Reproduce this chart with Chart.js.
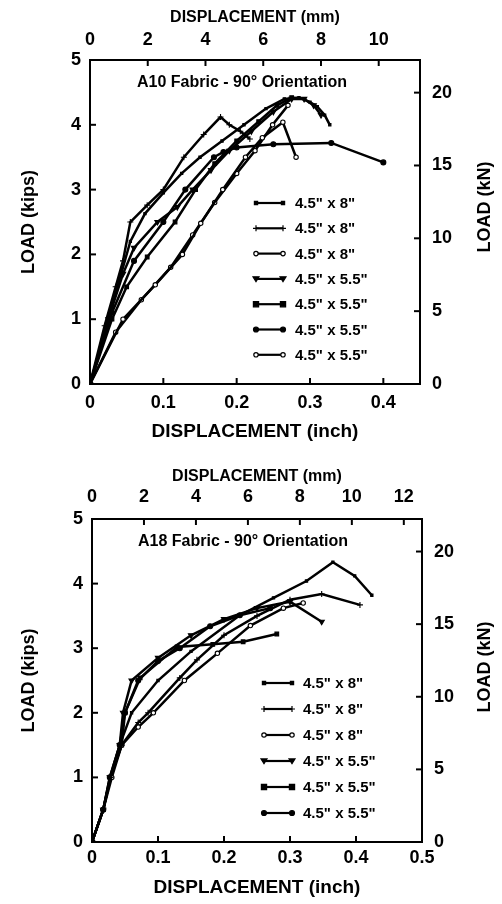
<!DOCTYPE html>
<html>
<head>
<meta charset="utf-8">
<script src="https://cdn.jsdelivr.net/npm/chart.js@4/dist/chart.umd.min.js"></script>
<style>
    body { margin: 0; background: #fff; width: 502px; height: 904px; overflow: hidden; position: relative; }
    canvas { position: absolute; left: 0; }
    #top-chart { top: 0; }
    #bottom-chart { top: 452px; }
</style>
</head>
<body>
<canvas id="top-chart" width="502" height="452"></canvas>
<canvas id="bottom-chart" width="502" height="452"></canvas>
<script>
// Data: [displacement (inch), load (kips)]
const a10Labels = ['4.5" x 8"', '4.5" x 8"', '4.5" x 8"', '4.5" x 5.5"', '4.5" x 5.5"', '4.5" x 5.5"', '4.5" x 5.5"'];
const a10Curve1 = [[0,0],[0.03,1.2],[0.055,2.2],[0.075,2.63],[0.1,2.95],[0.125,3.25],[0.15,3.5],[0.18,3.75],[0.21,4.0],[0.24,4.25],[0.265,4.4],[0.285,4.42],[0.3,4.35],[0.31,4.28],[0.32,4.15],[0.327,4.0]];
const a10Curve2 = [[0,0],[0.02,0.9],[0.035,1.5],[0.045,1.9],[0.055,2.5],[0.078,2.76],[0.1,3.0],[0.128,3.5],[0.155,3.85],[0.178,4.12],[0.19,4.0],[0.205,3.9],[0.218,3.78]];
const a10Curve3 = [[0,0],[0.045,1.0],[0.089,1.53],[0.126,2.0],[0.151,2.48],[0.181,3.0],[0.212,3.5],[0.235,3.8],[0.263,4.04],[0.281,3.5]];
const a10Curve4 = [[0,0],[0.025,1.0],[0.045,1.7],[0.06,2.1],[0.092,2.5],[0.119,2.73],[0.14,3.0],[0.165,3.3],[0.19,3.6],[0.22,3.9],[0.25,4.2],[0.275,4.4],[0.292,4.4],[0.305,4.3],[0.315,4.15]];
const a10Curve5 = [[0,0],[0.03,1.0],[0.05,1.5],[0.078,1.96],[0.116,2.5],[0.144,3.0],[0.17,3.4],[0.2,3.75],[0.23,4.05],[0.255,4.3],[0.275,4.42]];
const a10Curve6 = [[0,0],[0.03,1.1],[0.06,1.9],[0.1,2.5],[0.13,3.0],[0.169,3.5],[0.182,3.58],[0.2,3.65],[0.25,3.7],[0.329,3.72],[0.4,3.42]];
const a10Curve7 = [[0,0],[0.035,0.8],[0.07,1.3],[0.11,1.8],[0.14,2.3],[0.17,2.8],[0.2,3.25],[0.225,3.6],[0.249,4.0],[0.27,4.3]];

const a18Labels = ['4.5" x 8"', '4.5" x 8"', '4.5" x 8"', '4.5" x 5.5"', '4.5" x 5.5"', '4.5" x 5.5"'];
const a18Curve1 = [[0,0],[0.017,0.5],[0.028,1.0],[0.042,1.5],[0.06,2.0],[0.1,2.5],[0.15,2.95],[0.224,3.51],[0.275,3.78],[0.325,4.04],[0.365,4.33],[0.398,4.12],[0.424,3.82]];
const a18Curve2 = [[0,0],[0.017,0.5],[0.028,1.0],[0.045,1.5],[0.07,1.85],[0.085,2.0],[0.133,2.54],[0.159,2.82],[0.2,3.2],[0.25,3.5],[0.3,3.75],[0.348,3.84],[0.406,3.67]];
const a18Curve3 = [[0,0],[0.017,0.5],[0.03,1.0],[0.045,1.5],[0.07,1.78],[0.093,2.0],[0.14,2.5],[0.19,2.92],[0.24,3.35],[0.29,3.62],[0.32,3.7]];
const a18Curve4 = [[0,0],[0.017,0.5],[0.027,1.0],[0.042,1.5],[0.047,2.0],[0.06,2.5],[0.1,2.85],[0.15,3.2],[0.2,3.45],[0.25,3.62],[0.3,3.72],[0.348,3.41]];
const a18Curve5 = [[0,0],[0.017,0.5],[0.028,1.0],[0.045,1.5],[0.05,2.0],[0.073,2.54],[0.129,3.02],[0.183,3.06],[0.229,3.1],[0.28,3.22]];
const a18Curve6 = [[0,0],[0.017,0.5],[0.027,1.0],[0.042,1.5],[0.05,2.0],[0.07,2.5],[0.1,2.8],[0.133,3.0],[0.179,3.34],[0.224,3.51],[0.27,3.62]];

const INCH_TO_MM = 25.4;
const KIP_TO_KN = 4.448;
const FONT = "'Liberation Sans', Arial, sans-serif";

// marker styles, same order as the legends
const markers = [
    { style: 'rect', radius: 1.6, fill: '#000' },
    { style: 'cross', radius: 3, fill: '#000' },
    { style: 'circle', radius: 2.2, fill: '#fff' },
    { style: 'triangle', radius: 3, fill: '#000', rotation: 180 },
    { style: 'rect', radius: 2.6, fill: '#000' },
    { style: 'circle', radius: 2.5, fill: '#000' },
    { style: 'circle', radius: 2.2, fill: '#fff' }
];

function drawMarker(ctx, m, x, y) {
    ctx.save();
    ctx.fillStyle = m.fill;
    ctx.strokeStyle = '#000';
    ctx.lineWidth = 1.2;
    const r = m.radius;
    ctx.beginPath();
    if (m.style === 'rect') {
        ctx.rect(x - r, y - r, 2 * r, 2 * r);
        ctx.fill(); ctx.stroke();
    } else if (m.style === 'cross') {
        ctx.moveTo(x - r, y); ctx.lineTo(x + r, y);
        ctx.moveTo(x, y - r); ctx.lineTo(x, y + r);
        ctx.stroke();
    } else if (m.style === 'triangle') {
        ctx.moveTo(x - r, y - r * 0.7); ctx.lineTo(x + r, y - r * 0.7); ctx.lineTo(x, y + r * 0.9);
        ctx.closePath(); ctx.fill(); ctx.stroke();
    } else {
        ctx.arc(x, y, r, 0, Math.PI * 2);
        ctx.fill(); ctx.stroke();
    }
    ctx.restore();
}

// inward tick marks, plot title, legend and right axis title
const decorPlugin = {
    id: 'decor',
    afterDraw(chart) {
        const ctx = chart.ctx;
        const area = chart.chartArea;
        const d = chart.options.plugins.decor;
        ctx.save();
        ctx.strokeStyle = '#000';
        ctx.lineWidth = 2;
        const len = 6;
        ['x', 'x2', 'y', 'y2'].forEach(id => {
            const s = chart.scales[id];
            s.ticks.forEach(t => {
                const p = s.getPixelForValue(t.value);
                ctx.beginPath();
                if (id === 'x') { ctx.moveTo(p, area.bottom); ctx.lineTo(p, area.bottom - len); }
                if (id === 'x2') { ctx.moveTo(p, area.top); ctx.lineTo(p, area.top + len); }
                if (id === 'y') { ctx.moveTo(area.left, p); ctx.lineTo(area.left + len, p); }
                if (id === 'y2') { ctx.moveTo(area.right, p); ctx.lineTo(area.right - len, p); }
                ctx.stroke();
            });
        });

        ctx.fillStyle = '#000';
        ctx.textAlign = 'center';
        ctx.textBaseline = 'middle';
        ctx.font = `bold 16px ${FONT}`;
        ctx.fillText(d.title, d.titleX, d.titleY);

        // legend
        ctx.font = `bold 15px ${FONT}`;
        ctx.textAlign = 'left';
        chart.data.datasets.forEach((ds, i) => {
            const y = d.legendY + i * d.legendGap;
            ctx.lineWidth = 2.2;
            ctx.beginPath();
            ctx.moveTo(d.legendX1, y);
            ctx.lineTo(d.legendX2, y);
            ctx.stroke();
            drawMarker(ctx, markers[i], d.legendX1, y);
            drawMarker(ctx, markers[i], d.legendX2, y);
            ctx.fillText(ds.label, d.legendTextX, y + 1);
        });

        // right axis title reads bottom-to-top like the left one
        ctx.font = `bold 18px ${FONT}`;
        ctx.textAlign = 'center';
        ctx.translate(d.kNTitleX, d.kNTitleY);
        ctx.rotate(-Math.PI / 2);
        ctx.fillText('LOAD (kN)', 0, 0);
        ctx.restore();
    }
};

function makeChart(canvasId, curves, labels, cfg) {
    const datasets = curves.map((pts, i) => ({
        label: labels[i],
        data: pts.map(p => ({ x: p[0], y: p[1] })),
        borderColor: '#000',
        borderWidth: 2.5,
        backgroundColor: markers[i].fill,
        pointBorderColor: '#000',
        pointBorderWidth: 1.1,
        pointStyle: markers[i].style,
        pointRadius: markers[i].radius,
        pointRotation: markers[i].rotation || 0,
        tension: 0
    }));

    const boldTick = { family: FONT, size: 18, weight: 'bold' };
    const axisBorder = { display: true, width: 2, color: '#000' };
    const hiddenGrid = { display: true, drawOnChartArea: false, drawTicks: false };

    return new Chart(document.getElementById(canvasId), {
        type: 'line',
        data: { datasets },
        options: {
            responsive: false,
            animation: false,
            layout: { padding: 0 },
            plugins: {
                legend: { display: false },
                tooltip: { enabled: false },
                decor: cfg.decor
            },
            scales: {
                x: {
                    type: 'linear', position: 'bottom',
                    min: 0, max: cfg.xMax,
                    grid: hiddenGrid, border: axisBorder,
                    ticks: {
                        stepSize: 0.1, includeBounds: false, color: '#000', font: boldTick,
                        padding: cfg.xTickPad, maxRotation: 0,
                        callback: v => v === 0 ? '0' : v.toFixed(1)
                    },
                    title: {
                        display: true, text: 'DISPLACEMENT (inch)', color: '#000',
                        font: { family: FONT, size: 19, weight: 'bold' },
                        padding: { top: 0, bottom: cfg.xTitlePad }
                    },
                    afterFit: s => { s.height = cfg.bottomH; }
                },
                x2: {
                    type: 'linear', position: 'top',
                    min: 0, max: cfg.xMax * INCH_TO_MM,
                    grid: hiddenGrid, border: axisBorder,
                    ticks: {
                        stepSize: 2, includeBounds: false, color: '#000', font: boldTick,
                        padding: cfg.mmTickPad, maxRotation: 0
                    },
                    title: {
                        display: true, text: 'DISPLACEMENT (mm)', color: '#000',
                        font: { family: FONT, size: 16, weight: 'bold' },
                        padding: { top: cfg.mmTitlePad, bottom: 0 }
                    },
                    afterFit: s => { s.height = cfg.topH; }
                },
                y: {
                    type: 'linear', position: 'left',
                    min: 0, max: 5,
                    grid: hiddenGrid, border: axisBorder,
                    ticks: { stepSize: 1, color: '#000', font: boldTick, padding: 9 },
                    title: {
                        display: true, text: 'LOAD (kips)', color: '#000',
                        font: { family: FONT, size: 18, weight: 'bold' },
                        padding: { top: 18, bottom: 0 }
                    },
                    afterFit: s => { s.width = cfg.leftW; }
                },
                y2: {
                    type: 'linear', position: 'right',
                    min: 0, max: 5 * KIP_TO_KN,
                    grid: hiddenGrid, border: axisBorder,
                    ticks: { stepSize: 5, includeBounds: false, color: '#000', font: boldTick, padding: 12 },
                    afterFit: s => { s.width = cfg.rightW; }
                }
            }
        },
        plugins: [decorPlugin]
    });
}

makeChart('top-chart',
    [a10Curve1, a10Curve2, a10Curve3, a10Curve4, a10Curve5, a10Curve6, a10Curve7],
    a10Labels,
    {
        xMax: 0.45, leftW: 90, rightW: 82, topH: 60, bottomH: 68,
        xTickPad: 8, xTitlePad: 9, mmTickPad: 9, mmTitlePad: 8,
        decor: {
            title: 'A10 Fabric - 90° Orientation', titleX: 242, titleY: 83,
            legendX1: 256, legendX2: 283, legendTextX: 295, legendY: 203, legendGap: 25.3,
            kNTitleX: 485, kNTitleY: 207
        }
    });

makeChart('bottom-chart',
    [a18Curve1, a18Curve2, a18Curve3, a18Curve4, a18Curve5, a18Curve6],
    a18Labels,
    {
        xMax: 0.5, leftW: 92, rightW: 80, topH: 67, bottomH: 62,
        xTickPad: 5, xTitlePad: 5, mmTickPad: 11, mmTitlePad: 15,
        decor: {
            title: 'A18 Fabric - 90° Orientation', titleX: 243, titleY: 90,
            legendX1: 264, legendX2: 292, legendTextX: 303, legendY: 231, legendGap: 26,
            kNTitleX: 485, kNTitleY: 215
        }
    });
</script>
</body>
</html>
